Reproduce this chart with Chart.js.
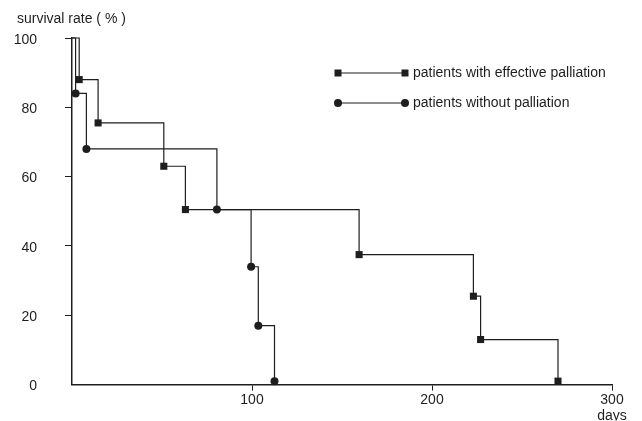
<!DOCTYPE html>
<html>
<head>
<meta charset="utf-8">
<script src="https://cdn.jsdelivr.net/npm/chart.js@4.4.0/dist/chart.umd.min.js"></script>
<style>
  html, body { margin: 0; padding: 0; background: #fff; }
  canvas { display: block; }
</style>
</head>
<body>
<canvas id="chart" width="642" height="421"></canvas>
<script>
// survival curves, values
const effectiveDays = [0, 4, 14.5, 51, 63, 159.5, 223, 227, 270];
const effectiveRate = [100, 88, 75.5, 63, 50.5, 37.5, 25.5, 13, 1];
const withoutDays = [0, 2, 8, 80.5, 99.5, 103.5, 112.5];
const withoutRate = [100, 84, 68, 50.5, 34, 17, 1];
const seriesNames = ["patients with effective palliation", "patients without palliation"];
const yTicks = [0, 20, 40, 60, 80, 100];
const xTicks = [0, 100, 200, 300];
const xUnit = "days";
const yTitle = "survival rate ( % )";

const ink = "#1e1e1e";
const font = "'Liberation Sans', Arial, sans-serif";

function toPoints(xs, ys) {
  return xs.map((x, i) => ({ x: x, y: ys[i] }));
}

// no tick mark at the origin
function tickInk(c) {
  return c.tick && c.tick.value === 0 ? "rgba(0,0,0,0)" : ink;
}

// axis caption sits above the y labels, left aligned with them
const yCaption = {
  id: "yCaption",
  afterDraw(chart) {
    const { ctx, chartArea } = chart;
    ctx.save();
    ctx.fillStyle = ink;
    ctx.font = "14px " + font;
    ctx.textBaseline = "middle";
    ctx.fillText(yTitle, chartArea.left - 55, chartArea.top - 19);
    ctx.restore();
  },
};

// legend: a line with a marker at each end, text to the right
const lineLegend = {
  id: "lineLegend",
  afterDatasetsDraw(chart) {
    const { ctx, chartArea } = chart;
    const x0 = chartArea.left + 266;
    const x1 = chartArea.left + 333;
    chart.data.datasets.forEach((ds, i) => {
      const y = chartArea.top + 35 + i * 30;
      ctx.save();
      ctx.strokeStyle = ink;
      ctx.fillStyle = ink;
      ctx.lineWidth = 1.2;
      ctx.beginPath();
      ctx.moveTo(x0, y);
      ctx.lineTo(x1, y);
      ctx.stroke();
      [x0, x1].forEach((x) => {
        ctx.beginPath();
        if (ds.pointStyle === "rect") {
          ctx.rect(x - 3.5, y - 3.5, 7, 7);
        } else {
          ctx.arc(x, y, 4, 0, Math.PI * 2);
        }
        ctx.fill();
      });
      ctx.font = "14px " + font;
      ctx.textBaseline = "middle";
      ctx.fillText(ds.label, x1 + 8, y);
      ctx.restore();
    });
  },
};

const ctx = document.getElementById("chart").getContext("2d");
const chart = new Chart(ctx, {
  type: "line",
  data: {
    datasets: [
      {
        label: seriesNames[0],
        data: toPoints(effectiveDays, effectiveRate),
        stepped: "before",
        borderColor: ink,
        borderWidth: 1.2,
        pointStyle: "rect",
        pointRadius: (c) => (c.dataIndex === 0 ? 0 : 5),
        pointBackgroundColor: ink,
        pointBorderWidth: 0,
        clip: false,
      },
      {
        label: seriesNames[1],
        data: toPoints(withoutDays, withoutRate),
        stepped: "before",
        borderColor: ink,
        borderWidth: 1.2,
        pointStyle: "circle",
        pointRadius: (c) => (c.dataIndex === 0 ? 0 : 4),
        pointBackgroundColor: ink,
        pointBorderWidth: 0,
        clip: false,
      },
    ],
  },
  options: {
    responsive: false,
    animation: false,
    events: [],
    devicePixelRatio: 1,
    layout: { padding: { left: 0, right: 30, top: 38, bottom: 0 } },
    scales: {
      x: {
        type: "linear",
        min: 0,
        max: 300,
        afterBuildTicks: (s) => { s.ticks = xTicks.map((v) => ({ value: v })); },
        afterFit: (s) => { s.height = 36; },
        ticks: {
          color: ink,
          padding: 2,
          maxRotation: 0,
          font: { family: font, size: 14, lineHeight: 1.1 },
          callback: (v) => {
            if (v === 0) return "";
            if (v === xTicks[xTicks.length - 1]) return [String(v), xUnit];
            return String(v);
          },
        },
        grid: { drawOnChartArea: false, drawTicks: true, tickLength: 6, color: tickInk, tickColor: tickInk },
        border: { display: true, color: ink, width: 1.5 },
      },
      y: {
        min: 0,
        max: 100,
        afterBuildTicks: (s) => { s.ticks = yTicks.map((v) => ({ value: v })); },
        afterFit: (s) => { s.width = 72; },
        ticks: {
          color: ink,
          padding: 28,
          labelOffset: 2,
          font: { family: font, size: 14 },
        },
        grid: { drawOnChartArea: false, drawTicks: true, tickLength: 7, color: tickInk, tickColor: tickInk },
        border: { display: true, color: ink, width: 1.5 },
      },
    },
    plugins: {
      legend: { display: false },
      tooltip: { enabled: false },
      title: { display: false },
    },
  },
  plugins: [lineLegend, yCaption],
});
</script>
</body>
</html>
